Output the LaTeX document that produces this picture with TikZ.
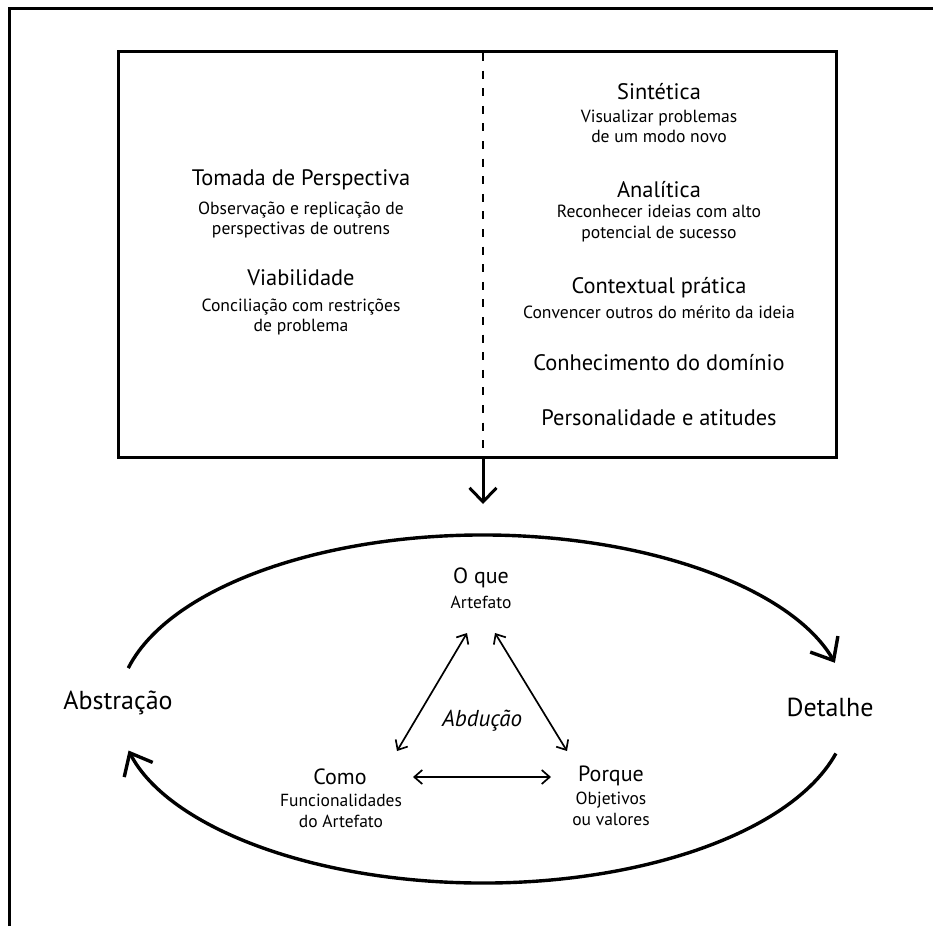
\documentclass[tikz,border=0pt]{standalone}
\usepackage{fontspec}
\setmainfont{PT Sans}
\usetikzlibrary{arrows.meta,calc}
\begin{document}
\begin{tikzpicture}[x=1pt,y=1pt,
  boxline/.style={line width=3pt},
  divider/.style={line width=1.8pt,dash pattern=on 8pt off 9.6pt},
  bigarrow/.style={line width=3pt,-{Straight Barb[length=14pt,width=27pt,line width=3pt]}},
  cyc/.style={line width=3.4pt,-{Straight Barb[length=19pt,width=32pt,line width=3.4pt]}},
  link/.style={line width=1.7pt,{Straight Barb[length=8pt,width=14pt,line width=1.7pt]}-{Straight Barb[length=8pt,width=14pt,line width=1.7pt]}},
  ttl/.style={inner sep=0pt,font=\fontsize{22.4}{26}\selectfont},
  sub/.style={inner sep=0pt,align=center,font=\fontsize{17.6}{20.5}\selectfont},
  big/.style={inner sep=0pt,font=\fontsize{26}{30}\selectfont},
  mid/.style={inner sep=0pt,font=\fontsize{22}{26}\selectfont},
  small/.style={inner sep=0pt,align=center,font=\fontsize{17.5}{21}\selectfont},
]
\fill[white] (0,0) rectangle (933,-926);
\useasboundingbox (0,0) rectangle (933,-926);

% outer frame, open on the right and at the bottom
\coordinate (fbl) at (9,-926);
\coordinate (ftl) at (9,-8.5);
\coordinate (ftr) at (933,-8.5);
\draw[boxline] (fbl) -- (ftl) -- (ftr);

% upper panel split in two columns
\draw[boxline] (118,-51.5) rectangle (836,-457.5);
\coordinate (divtop) at (483,-53);
\coordinate (divbot) at (483,-456);
\draw[divider] (divtop) -- (divbot);

% left column
\node[ttl] (tp)  at (301,-180) {Tomada de Perspectiva};
\node[sub] (tpd) at (301,-220) {Observação e replicação de\\perspectivas de outrens};
\node[ttl] (vb)  at (301,-278) {Viabilidade};
\node[sub] (vbd) at (301,-317) {Conciliação com restrições\\de problema};

% right column
\node[ttl] (si)  at (659,-92)  {Sintética};
\node[sub] (sid) at (659,-126.5) {Visualizar problemas\\de um modo novo};
\node[ttl] (an)  at (659,-190) {Analítica};
\node[sub] (and) at (659,-223.5) {Reconhecer ideias com alto\\potencial de sucesso};
\node[ttl] (ct)  at (659,-288) {Contextual prática};
\node[sub] (ctd) at (659,-312) {Convencer outros do mérito da ideia};
\node[ttl] (cd)  at (659,-363) {Conhecimento do domínio};
\node[ttl] (pa)  at (659,-418) {Personalidade e atitudes};

% arrow from the panel down to the cycle
\coordinate (down) at (483,-504);
\draw[bigarrow] (483,-457.5) -- (down);

% cycle between abstraction and detail
\coordinate (ctr) at (483,-709);
\node[big] (abs) at (118,-703) {Abstração};
\node[big] (det) at (830,-707) {Detalhe};
\draw[cyc] ($(ctr)+(166.4:365 and 174)$)
  arc[start angle=166.4,end angle=15.4,x radius=365,y radius=174];
\draw[cyc] ($(ctr)+(-14.8:365 and 174)$)
  arc[start angle=-14.8,end angle=-166.2,x radius=365,y radius=174];

% abduction triangle
\node[mid] (oq)   at (481,-578) {O que};
\node[small] (oqd) at (481,-602) {Artefato};
\node[mid] (como) at (340,-777) {Como};
\node[small] (comod) at (341,-810.5) {Funcionalidades\\do Artefato};
\node[mid] (pq)   at (611,-776) {Porque};
\node[small] (pqd) at (611,-809) {Objetivos\\ou valores};
\node[inner sep=0pt,font=\fontsize{23}{27}\selectfont\itshape] (abd) at (482,-721) {Abdução};

\coordinate (oqL) at (467,-633);
\coordinate (oqR) at (495,-633);
\coordinate (comoT) at (397,-751);
\coordinate (comoR) at (413,-777);
\coordinate (pqT) at (567,-751);
\coordinate (pqL) at (551,-777);
\draw[link] (oqL) -- (comoT);
\draw[link] (oqR) -- (pqT);
\draw[link] (comoR) -- (pqL);
\end{tikzpicture}
\end{document}
